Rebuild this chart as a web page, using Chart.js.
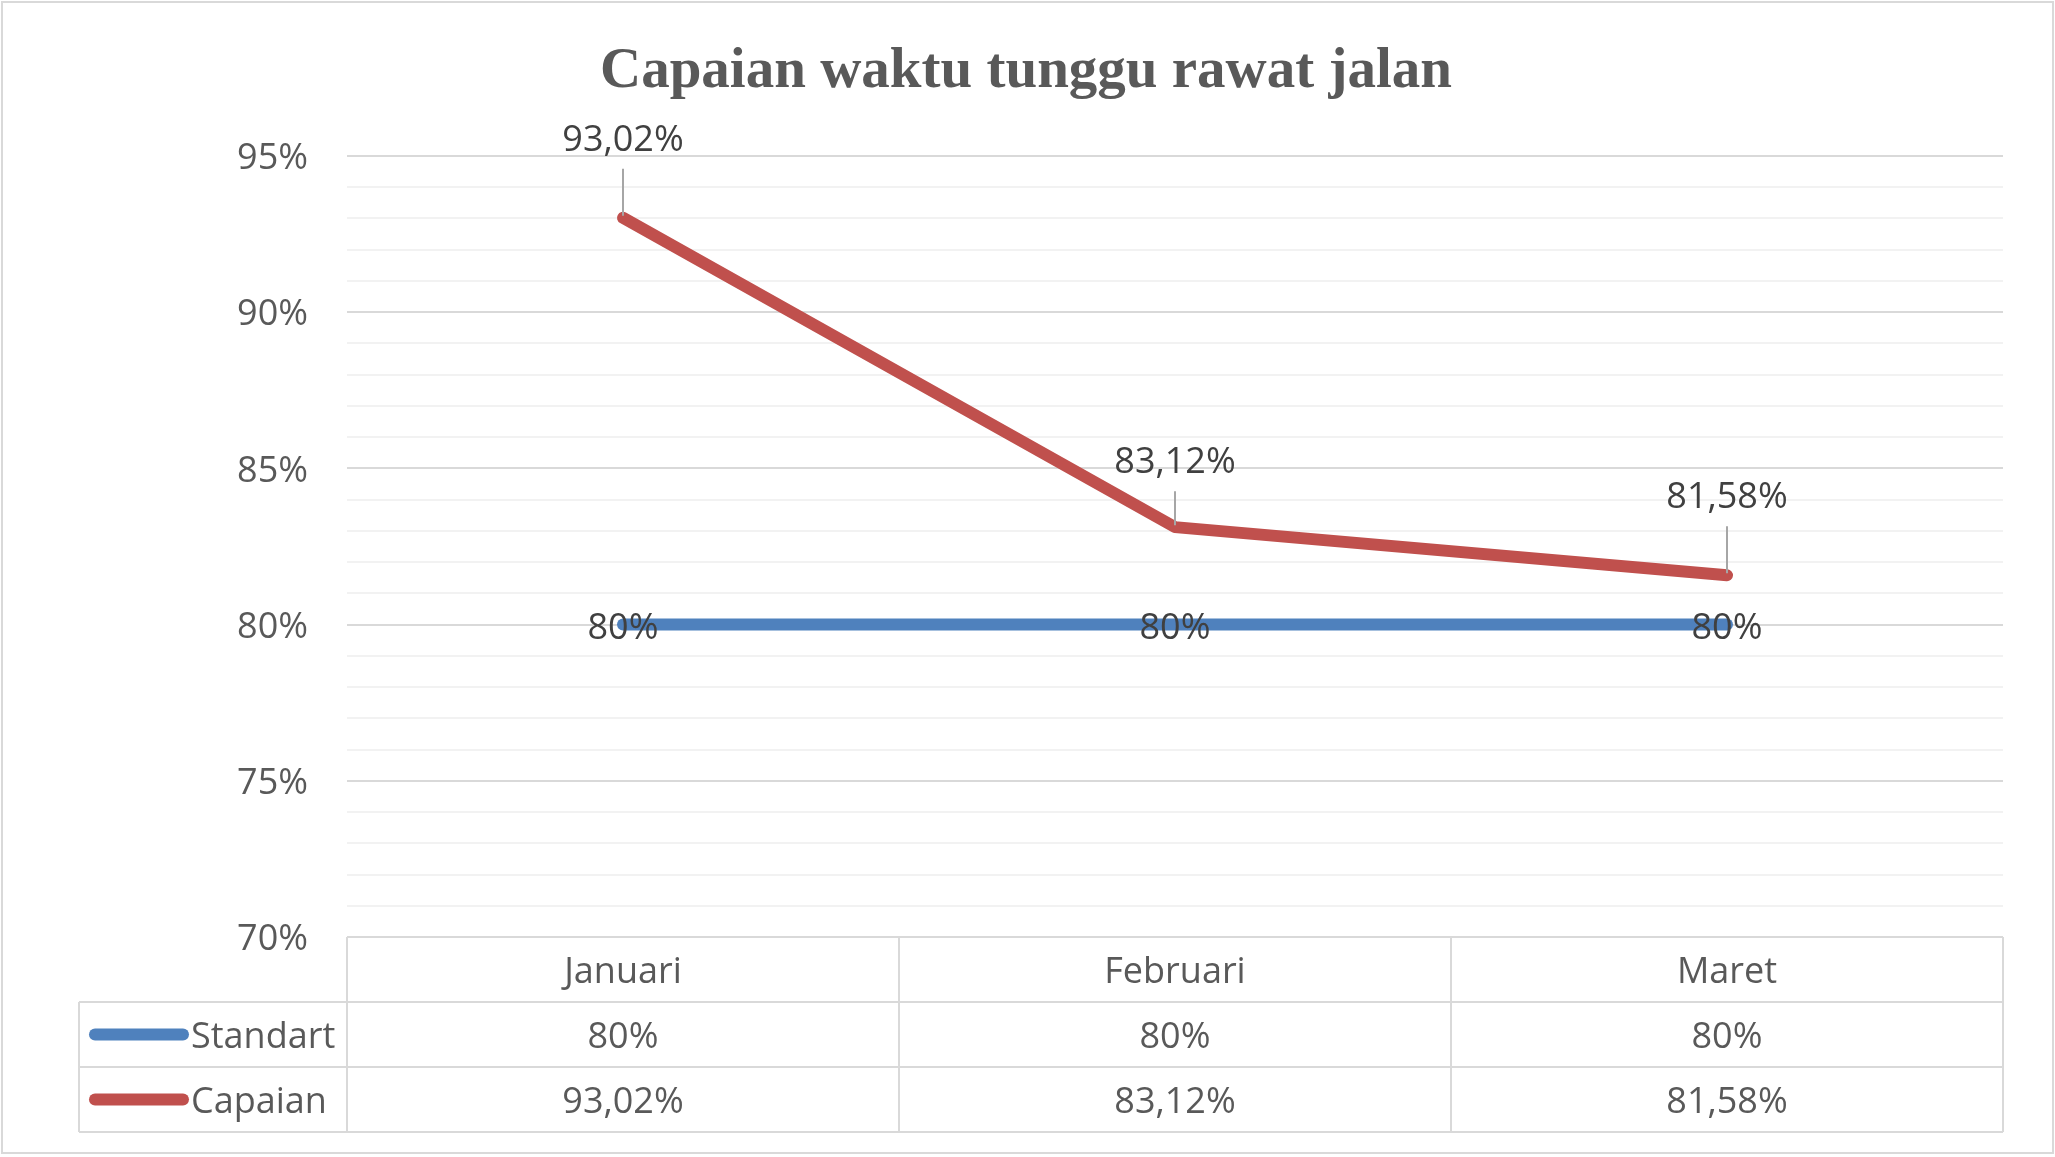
<!DOCTYPE html>
<html>
<head>
<meta charset="utf-8">
<title>Capaian waktu tunggu rawat jalan</title>
<script src="https://cdn.jsdelivr.net/npm/chart.js@4.4.1/dist/chart.umd.min.js"></script>
<style>
	html, body { margin: 0; padding: 0; background: #fff; }
	canvas { display: block; }
</style>
</head>
<body>
<canvas id="myChart" width="2055" height="1157"></canvas>
<script>
const months = ['Januari', 'Februari', 'Maret'];
const standart = [80, 80, 80];
const capaian = [93.02, 83.12, 81.58];
const yTicks = [70, 75, 80, 85, 90, 95];

const textFont = "'Open Sans', sans-serif";

// 93.02 -> "93,02%"
function pct(v) {
	return String(Math.round(v * 100) / 100).replace('.', ',') + '%';
}

// white page with the thin frame round it
const frame = {
	id: 'frame',
	beforeDraw(chart) {
		let ctx = chart.ctx;
		ctx.save();
		ctx.fillStyle = '#fff';
		ctx.fillRect(0, 0, chart.width, chart.height);
		ctx.strokeStyle = '#D9D9D9';
		ctx.lineWidth = 2;
		ctx.strokeRect(2, 2, chart.width - 4, chart.height - 6);
		ctx.restore();
	}
};

// value labels, Capaian ones lifted with a leader line
const dataLabels = {
	id: 'dataLabels',
	afterDatasetsDraw(chart, args, opts) {
		let ctx = chart.ctx;
		ctx.save();
		ctx.font = '36px ' + textFont;
		ctx.textAlign = 'center';
		ctx.textBaseline = 'middle';
		chart.data.datasets.forEach((ds, di) => {
			chart.getDatasetMeta(di).data.forEach((pt, i) => {
				let text = pct(ds.data[i]);
				if (ds.labelAbove) {
					let ty = pt.y - opts.lift[i];
					ctx.strokeStyle = '#A6A6A6';
					ctx.lineWidth = 2;
					ctx.beginPath();
					ctx.moveTo(pt.x, ty + 31);
					ctx.lineTo(pt.x, pt.y - 2);
					ctx.stroke();
					ctx.fillStyle = '#404040';
					ctx.fillText(text, pt.x, ty + 3);
				} else {
					ctx.fillStyle = '#404040';
					ctx.fillText(text, pt.x, pt.y + 4);
				}
			});
		});
		ctx.restore();
	}
};

// data table under the plot (replaces the x axis)
const dataTable = {
	id: 'dataTable',
	afterDraw(chart, args, opts) {
		let ctx = chart.ctx;
		let a = chart.chartArea;
		let x = chart.scales.x;
		let sets = chart.data.datasets;
		let colW = a.width / months.length;
		let rowH = opts.rowHeight;
		let top = a.bottom;
		let bottom = top + (sets.length + 1) * rowH;

		ctx.save();
		ctx.strokeStyle = '#D9D9D9';
		ctx.lineWidth = 2;
		ctx.beginPath();
		ctx.moveTo(a.left, top);
		ctx.lineTo(a.right, top);
		for (let r = 1; r <= sets.length + 1; r++) {
			ctx.moveTo(opts.keyLeft, top + r * rowH);
			ctx.lineTo(a.right, top + r * rowH);
		}
		for (let c = 0; c <= months.length; c++) {
			ctx.moveTo(a.left + c * colW, top);
			ctx.lineTo(a.left + c * colW, bottom);
		}
		ctx.moveTo(opts.keyLeft, top + rowH);
		ctx.lineTo(opts.keyLeft, bottom);
		ctx.stroke();

		ctx.font = '36px ' + textFont;
		ctx.fillStyle = '#595959';
		ctx.textBaseline = 'middle';
		ctx.textAlign = 'center';
		months.forEach((m, i) => {
			ctx.fillText(m, x.getPixelForValue(i), top + rowH / 2 + 3);
		});

		sets.forEach((ds, r) => {
			let cy = top + (r + 1) * rowH + rowH / 2;
			ctx.strokeStyle = ds.borderColor;
			ctx.lineWidth = 12;
			ctx.lineCap = 'round';
			ctx.beginPath();
			ctx.moveTo(opts.keyLeft + 16, cy);
			ctx.lineTo(opts.keyLeft + 104, cy);
			ctx.stroke();
			ctx.textAlign = 'left';
			ctx.fillStyle = '#595959';
			ctx.fillText(ds.label, opts.keyLeft + 112, cy + 3);
			ctx.textAlign = 'center';
			ds.data.forEach((v, i) => {
				ctx.fillText(pct(v), x.getPixelForValue(i), cy + 3);
			});
		});
		ctx.restore();
	}
};

new Chart(document.getElementById('myChart').getContext('2d'), {
	type: 'line',
	data: {
		labels: months,
		datasets: [{
			label: 'Standart',
			data: standart,
			borderColor: '#4F81BD',
			labelAbove: false
		}, {
			label: 'Capaian',
			data: capaian,
			borderColor: '#C0504D',
			labelAbove: true
		}]
	},
	options: {
		responsive: false,
		animation: false,
		layout: {
			padding: { top: 0, left: 49, right: 52, bottom: 220 }
		},
		elements: {
			line: {
				borderWidth: 12,
				borderCapStyle: 'round',
				borderJoinStyle: 'round',
				tension: 0,
				fill: false
			},
			point: { radius: 0, hoverRadius: 0 }
		},
		scales: {
			x: {
				type: 'category',
				offset: true,
				display: false
			},
			y: {
				min: yTicks[0],
				max: yTicks[yTicks.length - 1],
				border: { display: false },
				grid: {
					drawTicks: false,
					lineWidth: 2,
					color: (c) => yTicks.includes(c.tick.value) ? '#D9D9D9' : '#F2F2F2'
				},
				ticks: {
					stepSize: 1,
					autoSkip: false,
					padding: 39,
					labelOffset: 3,
					color: '#595959',
					font: { family: textFont, size: 36 },
					callback: (v) => yTicks.includes(v) ? v + '%' : ''
				},
				afterFit: (s) => { s.width = 298; }
			}
		},
		plugins: {
			legend: { display: false },
			tooltip: { enabled: false },
			title: {
				display: true,
				text: 'Capaian waktu tunggu rawat jalan',
				color: '#595959',
				font: { family: "'Liberation Serif', serif", size: 57, weight: 'bold' },
				padding: { top: 38, bottom: 49.6 }
			},
			dataLabels: { lift: [80, 67, 80] },
			dataTable: { rowHeight: 65, keyLeft: 79 }
		}
	},
	plugins: [frame, dataLabels, dataTable]
});
</script>
</body>
</html>
